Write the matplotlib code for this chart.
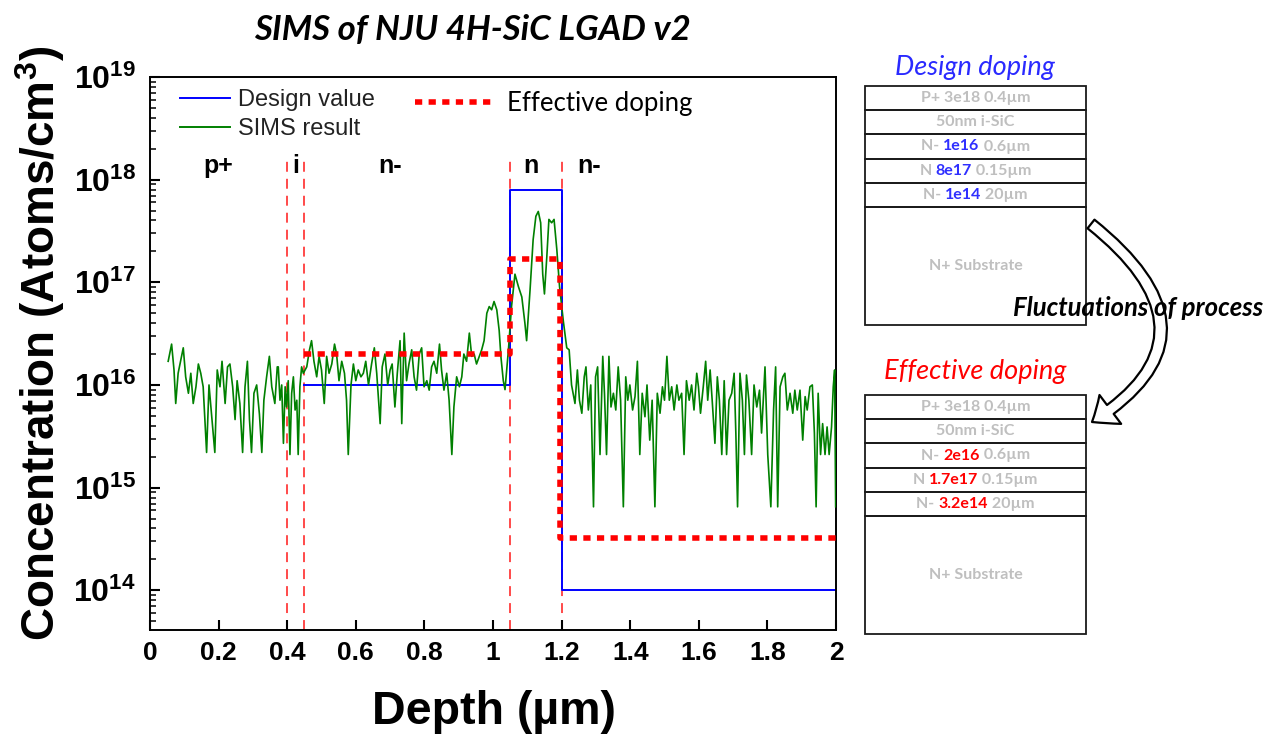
import numpy as np
import matplotlib
matplotlib.use('Agg')
import matplotlib.pyplot as plt
from matplotlib.patches import Rectangle, FancyArrowPatch
from matplotlib.path import Path
from matplotlib.lines import Line2D
from matplotlib.ticker import NullFormatter
from matplotlib.offsetbox import TextArea, HPacker, AnnotationBbox

plt.rcParams['mathtext.fontset'] = 'custom'
plt.rcParams['mathtext.bf'] = 'Liberation Sans:bold'
plt.rcParams['mathtext.rm'] = 'Liberation Sans'

AX_FONT = ['Liberation Sans', 'DejaVu Sans']
CAL_FONT = ['Lato', 'DejaVu Sans']

# SIMS depth profile (um, atoms/cm3)
sims_depth = [
    0.053, 0.063, 0.070, 0.075, 0.082, 0.089, 0.097, 0.104, 0.112, 0.119,
    0.126, 0.134, 0.141, 0.148, 0.155, 0.165, 0.172, 0.180, 0.189, 0.196,
    0.204, 0.210, 0.219, 0.226, 0.233, 0.241, 0.248, 0.254, 0.262, 0.270,
    0.277, 0.284, 0.290, 0.296, 0.303, 0.311, 0.319, 0.326, 0.332, 0.340,
    0.348, 0.355, 0.364, 0.371, 0.374, 0.379, 0.384, 0.389, 0.394, 0.398,
    0.403, 0.408, 0.413, 0.418, 0.423, 0.428, 0.432, 0.437, 0.442, 0.447,
    0.457, 0.465, 0.471, 0.478, 0.486, 0.493, 0.500, 0.508, 0.515, 0.522,
    0.530, 0.538, 0.544, 0.551, 0.559, 0.567, 0.573, 0.578, 0.586, 0.593,
    0.600, 0.607, 0.615, 0.622, 0.629, 0.637, 0.646, 0.654, 0.661, 0.671,
    0.677, 0.685, 0.693, 0.700, 0.706, 0.714, 0.721, 0.729, 0.734, 0.741,
    0.748, 0.755, 0.763, 0.770, 0.777, 0.785, 0.792, 0.799, 0.807, 0.814,
    0.821, 0.828, 0.836, 0.844, 0.850, 0.857, 0.865, 0.872, 0.880, 0.886,
    0.894, 0.902, 0.909, 0.915, 0.923, 0.931, 0.938, 0.945, 0.952, 0.960,
    0.967, 0.974, 0.982, 0.989, 0.996, 1.003, 1.011, 1.018, 1.023, 1.030,
    1.035, 1.045, 1.054, 1.064, 1.074, 1.084, 1.093, 1.098, 1.108, 1.117,
    1.125, 1.132, 1.139, 1.145, 1.150, 1.157, 1.163, 1.171, 1.178, 1.186,
    1.194, 1.205, 1.215, 1.222, 1.229, 1.239, 1.246, 1.252, 1.259, 1.266,
    1.271, 1.278, 1.285, 1.293, 1.299, 1.305, 1.312, 1.320, 1.325, 1.331,
    1.338, 1.344, 1.351, 1.358, 1.365, 1.372, 1.380, 1.387, 1.393, 1.399,
    1.407, 1.414, 1.421, 1.428, 1.435, 1.443, 1.449, 1.457, 1.464, 1.472,
    1.479, 1.487, 1.494, 1.500, 1.507, 1.514, 1.521, 1.528, 1.536, 1.542,
    1.550, 1.557, 1.564, 1.572, 1.579, 1.586, 1.594, 1.599, 1.605, 1.613,
    1.620, 1.626, 1.633, 1.639, 1.647, 1.654, 1.660, 1.667, 1.674, 1.681,
    1.688, 1.696, 1.703, 1.708, 1.713, 1.720, 1.727, 1.733, 1.739, 1.746,
    1.754, 1.761, 1.769, 1.777, 1.783, 1.793, 1.801, 1.810, 1.818, 1.824,
    1.830, 1.837, 1.845, 1.851, 1.858, 1.866, 1.874, 1.880, 1.887, 1.895,
    1.903, 1.910, 1.916, 1.924, 1.931, 1.937, 1.942, 1.948, 1.955, 1.961,
    1.968, 1.974, 1.980, 1.987, 1.992, 1.996, 1.999,
]
sims_conc = [
    1.7e16, 2.5e16, 1.4e16, 6.6e15, 1.3e16, 1.7e16, 2.3e16, 1.2e16, 8.3e15, 1.3e16,
    6.6e15, 9.6e15, 1.6e16, 1.3e16, 9.6e15, 2.2e15, 1.0e16, 4.9e15, 2.2e15, 1.4e16,
    9.6e15, 1.7e16, 6.6e15, 1.5e16, 1.6e16, 9.6e15, 4.6e15, 1.1e16, 6.6e15, 2.2e15,
    9.6e15, 1.7e16, 4.6e15, 2.2e15, 8.3e15, 1.0e16, 5.2e15, 2.2e15, 7.1e15, 1.2e16,
    1.9e16, 9.6e15, 6.6e15, 1.5e16, 1.5e16, 7.1e15, 1.0e16, 2.7e15, 9.6e15, 6.1e15,
    1.1e16, 2.1e15, 8.3e15, 1.2e16, 5.7e15, 7.1e15, 2.1e15, 9.6e15, 1.5e16, 1.3e16,
    1.5e16, 2.2e16, 2.7e16, 1.7e16, 1.2e16, 1.9e16, 1.4e16, 6.6e15, 1.9e16, 1.3e16,
    1.6e16, 2.5e16, 2.0e16, 1.1e16, 1.7e16, 1.3e16, 7.1e15, 2.1e15, 1.0e16, 1.6e16,
    1.1e16, 1.4e16, 1.2e16, 1.3e16, 1.7e16, 1.0e16, 1.6e16, 2.3e16, 1.3e16, 4.2e15,
    1.5e16, 2.0e16, 1.0e16, 1.4e16, 1.6e16, 6.1e15, 1.3e16, 2.7e16, 4.2e15, 3.2e16,
    1.1e16, 1.6e16, 2.2e16, 1.2e16, 8.9e15, 2.0e16, 2.3e16, 9.6e15, 1.1e16, 8.9e15,
    1.5e16, 1.7e16, 1.3e16, 2.5e16, 1.4e16, 8.9e15, 1.3e16, 7.1e15, 2.1e15, 6.1e15,
    1.2e16, 9.6e15, 1.2e16, 2.0e16, 1.7e16, 3.2e16, 1.9e16, 2.0e16, 1.6e16, 1.9e16,
    2.2e16, 2.7e16, 5.0e16, 5.8e16, 5.4e16, 6.5e16, 5.4e16, 3.4e16, 1.9e16, 1.1e16,
    9.0e15, 2.2e16, 5.8e16, 1.2e17, 9.1e16, 7.2e16, 4.0e16, 2.7e16, 8.4e16, 2.6e17,
    4.4e17, 4.9e17, 3.8e17, 1.2e17, 7.7e16, 1.8e17, 4.1e17, 3.8e17, 4.1e17, 2.1e17,
    9.1e16, 4.2e16, 2.3e16, 2.2e16, 1.0e16, 6.6e15, 1.4e16, 7.1e15, 5.3e15, 1.2e16,
    1.5e16, 5.7e15, 1.0e16, 6.5e14, 1.2e16, 1.5e16, 2.1e15, 1.9e16, 8.3e15, 2.1e15,
    1.9e16, 6.1e15, 8.3e15, 5.7e15, 1.5e16, 7.1e15, 6.5e14, 1.2e16, 7.1e15, 1.0e16,
    5.7e15, 7.7e15, 1.7e16, 2.1e15, 8.3e15, 4.9e15, 1.0e16, 2.9e15, 7.1e15, 6.5e14,
    8.3e15, 5.3e15, 9.6e15, 7.1e15, 1.9e16, 7.1e15, 9.6e15, 5.7e15, 1.0e16, 7.1e15,
    8.3e15, 2.1e15, 1.1e16, 7.1e15, 1.0e16, 5.7e15, 1.3e16, 9.6e15, 5.3e15, 9.6e15,
    1.7e16, 7.1e15, 1.4e16, 7.1e15, 2.7e15, 1.2e16, 7.1e15, 2.1e15, 1.1e16, 2.1e15,
    7.1e15, 8.3e15, 1.3e16, 3.4e15, 6.5e14, 1.3e16, 7.1e15, 2.1e15, 1.25e16, 7.1e15,
    2.1e15, 1.0e16, 6.1e15, 8.9e15, 3.4e15, 1.5e16, 2.1e15, 6.5e14, 5.7e15, 1.5e16,
    6.5e14, 9.6e15, 1.2e16, 1.3e16, 5.7e15, 8.3e15, 5.3e15, 8.9e15, 5.7e15, 8.9e15,
    2.9e15, 7.7e15, 5.7e15, 9.6e15, 1.0e16, 3.4e15, 6.5e14, 8.3e15, 2.1e15, 4.2e15,
    2.1e15, 3.9e15, 2.1e15, 3.9e15, 9.6e15, 1.4e16, 6.5e14,
]

# layer edges (um) and doping levels
design_edges = [0.45, 1.05, 1.20, 2.0]
design_conc = [1e16, 8e17, 1e14]
effective_edges = [0.45, 1.05, 1.195, 2.0]
effective_conc = [2e16, 1.7e17, 3.2e14]

boundary_depth = [0.40, 0.45, 1.05, 1.20]
region_names = ['p+', 'i', 'n-', 'n', 'n-']
region_depth = [0.20, 0.425, 0.70, 1.11, 1.28]

xtick_vals = [0, 0.2, 0.4, 0.6, 0.8, 1.0, 1.2, 1.4, 1.6, 1.8, 2.0]
xtick_labels = ['0', '0.2', '0.4', '0.6', '0.8', '1', '1.2', '1.4', '1.6', '1.8', '2']
ytick_exp = [14, 15, 16, 17, 18, 19]

# layer stack text
stack_prefix = ['P+ 3e18 0.4\u00b5m', '50nm i-SiC', 'N- ', 'N ', 'N- ', 'N+ Substrate']
design_values = ['', '', '1e16', '8e17', '1e14', '']
effective_values = ['', '', '2e16', '1.7e17', '3.2e14', '']
stack_suffix = ['', '', ' 0.6\u00b5m', ' 0.15\u00b5m', ' 20\u00b5m', '']


def steps(edges, levels):
    x = np.repeat(edges, 2)[1:-1]
    y = np.repeat(levels, 2)
    return x, y


W, H = 1269, 744
fig = plt.figure(figsize=(W / 100, H / 100), dpi=100)
fig.patch.set_facecolor('white')

ax = fig.add_axes([150 / W, 1 - 630 / H, 686 / W, 553 / H])
ax.set_yscale('log')
ax.set_xlim(0, 2)
ax.set_ylim(4.1e13, 1e19)

ax.plot(sims_depth, sims_conc, color='#008000', lw=1.2, label='SIMS result', zorder=3)
dx, dy = steps(design_edges, design_conc)
l_design, = ax.plot(dx, dy, color='#0000ff', lw=1.4, label='Design value', zorder=2)
ex, ey = steps(effective_edges, effective_conc)
l_eff, = ax.plot(ex, ey, color='#ff0000', lw=4, linestyle=(0, (1.3, 1.15)), zorder=4,
                 label='Effective doping')
ax.vlines(boundary_depth, 4.1e13, 1.75e18, colors='#ff3b3b', lw=1.3,
          linestyles=[(0, (5.5, 3.9))], zorder=1)

for name, d in zip(region_names, region_depth):
    ax.text(d, 1.35e18, name, ha='center', va='center', fontsize=18,
            fontweight='bold', family=AX_FONT)

ax.set_xticks(xtick_vals)
ax.set_xticklabels(xtick_labels, fontsize=19, fontweight='bold', family=AX_FONT)
ax.set_yticks([10.0 ** e for e in ytick_exp])
ax.set_yticklabels([r'$\mathbf{10^{%d}}$' % e for e in ytick_exp], fontsize=23)
ax.yaxis.set_minor_formatter(NullFormatter())
ax.tick_params(which='both', direction='in', top=False, right=False)
ax.tick_params(which='major', length=7, width=1.5)
ax.tick_params(which='minor', length=4, width=1.1)
ax.tick_params(axis='x', pad=8)
ax.tick_params(axis='y', pad=10)
for s in ax.spines.values():
    s.set_linewidth(1.4)

h_sims = Line2D([], [], color='#008000', lw=1.4)
leg1 = ax.legend([l_design, h_sims], ['Design value', 'SIMS result'],
                 loc='upper left', bbox_to_anchor=(0.044, 0.978), frameon=False,
                 borderpad=0, borderaxespad=0, handlelength=2.1, handletextpad=0.35,
                 labelspacing=0.3, prop=dict(family=AX_FONT, size=17))
for t in leg1.get_texts():
    t.set_color('#222222')
ax.add_artist(leg1)
ax.legend([l_eff], ['Effective doping'], loc='upper left', bbox_to_anchor=(0.386, 0.975),
          frameon=False, borderpad=0, borderaxespad=0, handlelength=3.1,
          handletextpad=0.5, prop=dict(family=CAL_FONT, size=18.5))

# pixel-space overlay for titles and the layer stacks
ov = fig.add_axes([0, 0, 1, 1])
ov.set_xlim(0, W)
ov.set_ylim(H, 0)
ov.axis('off')

ov.text(472, 30, 'SIMS of NJU 4H-SiC LGAD v2', ha='center', va='center', fontsize=25,
        fontweight='bold', style='italic', family=CAL_FONT)
ov.text(40, 343, 'Concentration (Atoms/cm$^{\\mathbf{3}}$)', rotation=90, ha='center',
        va='center', fontsize=33, fontweight='bold', family=AX_FONT)
ov.text(494, 712, 'Depth (\u00b5m)', ha='center', va='center', fontsize=33.5,
        fontweight='bold', family=AX_FONT)


def draw_stack(top, values, val_color, title, title_color, title_y):
    ov.text(975, title_y, title, ha='center', va='center', fontsize=19.5, style='italic',
            color=title_color, family=CAL_FONT)
    heights = [24.2] * 5 + [117.5]
    y = top
    for i, h in enumerate(heights):
        ov.add_patch(Rectangle((865, y), 221, h, fill=False, ec='#1a1a1a', lw=1.3))
        parts = [(stack_prefix[i], '#bfbfbf'), (values[i], val_color), (stack_suffix[i], '#bfbfbf')]
        boxes = [TextArea(s, textprops=dict(color=c, fontsize=11.5, fontweight='bold',
                                            family=CAL_FONT)) for s, c in parts if s]
        pack = HPacker(children=boxes, align='baseline', pad=0, sep=0)
        ov.add_artist(AnnotationBbox(pack, (975.5, y + h / 2), frameon=False,
                                     box_alignment=(0.5, 0.5), pad=0))
        y += h


draw_stack(86, design_values, '#2f2fff', 'Design doping', '#2a2aff', 68)
draw_stack(395, effective_values, '#ff0000', 'Effective doping', '#ff0000', 372)

arrow_path = Path([(1091, 224), (1230, 335), (1092, 422)],
                  [Path.MOVETO, Path.CURVE3, Path.CURVE3])
ov.add_patch(FancyArrowPatch(path=arrow_path, transform=ov.transData,
                             arrowstyle='simple,head_length=1.6,head_width=2.6,tail_width=0.8',
                             mutation_scale=10, fc='white', ec='black', lw=1.6))
ov.text(1013, 308, 'Fluctuations of process', ha='left', va='center', fontsize=18.5,
        fontweight='bold', style='italic', family=CAL_FONT)

fig.savefig('out.png', dpi=100)
